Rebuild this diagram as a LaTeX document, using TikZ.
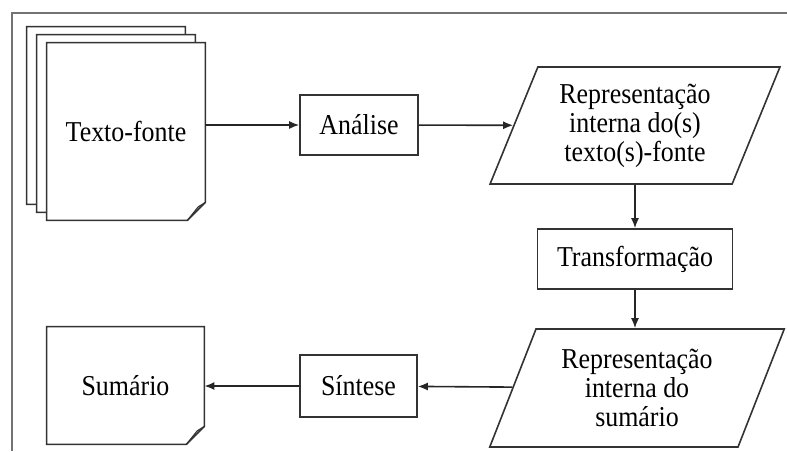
\documentclass[tikz,border=0pt]{standalone}
\usepackage{fontspec}
\setmainfont{Liberation Serif}[FakeStretch=0.9]
\usetikzlibrary{shapes.geometric,arrows.meta}

\tikzset{
  every node/.style={font=\fontsize{14.4}{14.5}\selectfont, align=center},
  proc/.style={draw=black!80, line width=0.8pt, rectangle, inner sep=0pt},
  repr/.style={draw=black!80, line width=0.8pt, trapezium, trapezium left angle=66,
               trapezium right angle=114, trapezium stretches=true, inner sep=0pt},
  page/.style={rectangle, inner sep=0pt},
  flow/.style={black!85, line width=0.8pt, -{Latex[length=5pt,width=4pt]}}
}

% outline of a sheet with a folded corner, drawn round node #1
\newcommand\sheet[1]{%
  \filldraw[fill=white, draw=black!80, line width=0.8pt]
    (#1.north west) -- (#1.north east) -- ([yshift=\fold]#1.south east)
    -- ([xshift=-\fold]#1.south east) -- (#1.south west) -- cycle;
  \draw[black!80, line width=0.6pt]
    ([yshift=\fold]#1.south east) -- ([xshift=-0.4*\fold,yshift=0.75*\fold]#1.south east)
    -- ([xshift=-\fold]#1.south east);
}

\begin{document}
\begin{tikzpicture}[x=0.5pt,y=-0.5pt]
  \pgfmathsetmacro\fold{9}   % size of the folded corner (pt)

  \useasboundingbox (0,0) rectangle (787,451);

% frame (top and left side only)
  \draw[black!55, line width=1pt] (787,13) -- (12,13) -- (12,451);

% stack of source texts
  \node[page, minimum width=79pt, minimum height=88.5pt] (fonteC) at (106,115.5) {};
  \node[page, minimum width=79pt, minimum height=88.5pt] (fonteB) at (116,123.5) {};
  \node[page, minimum width=79pt, minimum height=88.5pt] (fonte)  at (126,131.5) {};
  \sheet{fonteC}
  \sheet{fonteB}
  \sheet{fonte}
  \node at (fonte) {Texto-fonte};

% processing steps
  \node[proc, minimum width=59pt, minimum height=30pt] (analise) at (359,125) {Análise};
  \node[repr, minimum width=145pt, minimum height=58.5pt] (rep1) at (635,125.5)
    {Representação\\interna do(s)\\texto(s)-fonte};
  \node[proc, minimum width=97.5pt, minimum height=30pt] (transf) at (635,259) {Transformação};
  \node[repr, minimum width=147.5pt, minimum height=59pt] (rep2) at (637,388)
    {Representação\\interna do\\sumário};
  \node[proc, minimum width=58.5pt, minimum height=31pt] (sintese) at (358.5,386) {Síntese};

% summary
  \node[page, minimum width=78.5pt, minimum height=58.5pt] (sumario) at (125.5,385.5) {};
  \sheet{sumario}
  \node at (sumario) {Sumário};

% connectors
  \draw[flow] (fonte.east |- analise.west) -- (analise.west);
  \draw[flow] (analise) -- (rep1);
  \draw[flow] (rep1.south -| transf.north) -- (transf.north);
  \draw[flow] (transf) -- (transf |- rep2.north);
  \draw[flow] (rep2) -- (sintese);
  \draw[flow] (sintese) -- (sintese -| sumario.east);
\end{tikzpicture}
\end{document}
